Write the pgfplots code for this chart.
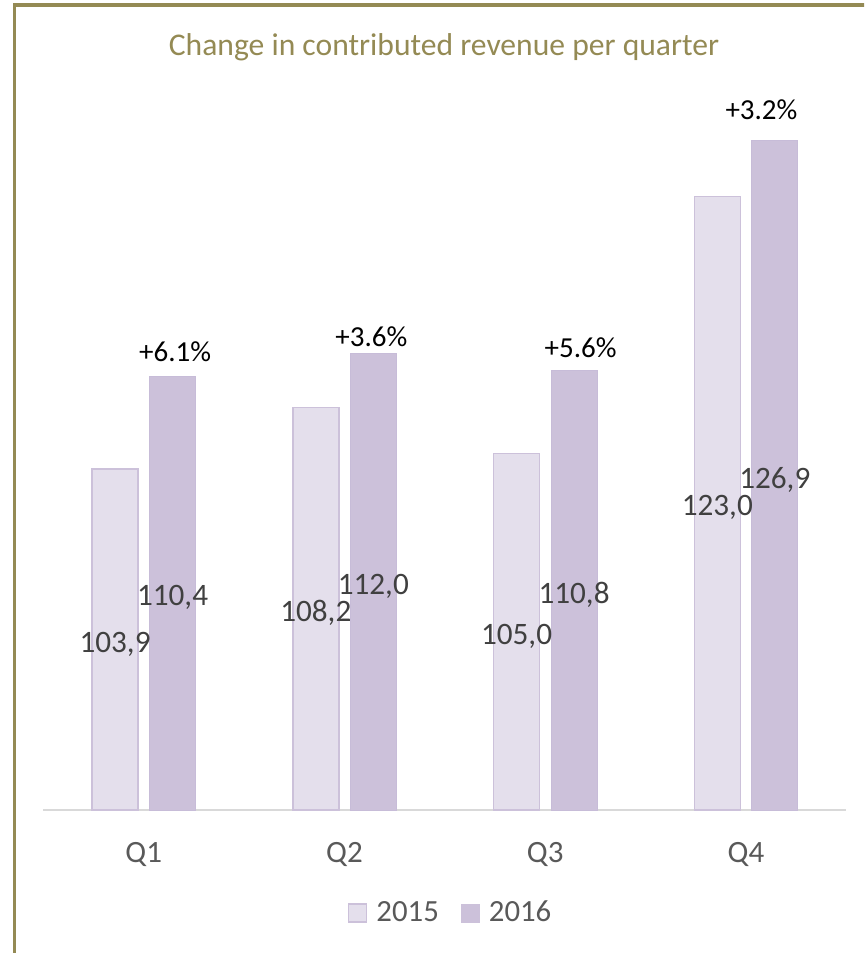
\documentclass[border=0pt]{standalone}
\usepackage{pgfplots}
\pgfplotsset{compat=1.18}
\usepackage{fontspec}
\setmainfont{Carlito}
\definecolor{tan}{HTML}{948A54}
\definecolor{cA}{HTML}{E4DFEC}
\definecolor{cB}{HTML}{CCC1DA}
\definecolor{cBe}{HTML}{C7BCD8}
\definecolor{lbl}{HTML}{404040}
\definecolor{tickc}{HTML}{595959}
\definecolor{axgray}{HTML}{D9D9D9}
\begin{document}
\begin{tikzpicture}
\useasboundingbox (0pt,0pt) rectangle (432pt,-476.5pt);
\begin{scope}
\clip (0pt,0pt) rectangle (432pt,-476.5pt);
\draw[tan, line width=1.6pt] (7.25pt,-600pt) -- (7.25pt,-2.5pt) -- (600pt,-2.5pt);
\end{scope}
\begin{axis}[
  at={(21.7pt,-405pt)}, anchor=south west,
  scale only axis, width=401.5pt, height=356.75pt,
  xmin=-0.5, xmax=3.5, ymin=80, ymax=130,
  axis x line=bottom, axis y line=none,
  x axis line style={-, draw=axgray, line width=1.35pt},
  xtick={0,1,2,3}, xticklabels={Q1,Q2,Q3,Q4},
  major tick length=0pt,
  xticklabel style={font=\fontsize{15.5}{18}\selectfont, text=tickc, inner sep=0pt, anchor=north, yshift=-16pt},
  clip=false,
  every axis title shift=0pt,
  title={Change in contributed revenue per quarter},
  title style={at={(0.4989,1.0694)}, anchor=center, inner sep=0pt, font=\fontsize{15.8}{18}\selectfont, text=tan},
  legend style={at={(0.5115,-0.1444)}, anchor=center, draw=none, fill=none,
    font=\fontsize{15.4}{18}\selectfont, text=tickc, legend columns=2,
    nodes={inner xsep=4.5pt},
    /tikz/every even column/.append style={column sep=6.5pt}},
]
\addplot[ybar, bar shift=-14.375pt, bar width=23pt, fill=cA, draw=cB, line width=0.75pt,
  point meta=explicit symbolic, nodes near coords,
  visualization depends on={rawy \as \rawy},
  nodes near coords style={anchor=center, xshift=-14.375pt, yshift={-(\rawy-80)*3.5675-2.2}, font=\fontsize{15.6}{18}\selectfont, text=lbl, inner sep=0pt},
  legend image code/.code={\draw[fill=cA, draw=cB, line width=0.75pt] (0pt,-4.5pt) rectangle (9pt,4.5pt);}]
table[x=x, y=y, meta=lab] {
x y lab
0 103.9 103,9
1 108.2 108,2
2 105.0 105,0
3 123.0 123,0
};
\addlegendentry{2015}
\addplot[ybar, bar shift=14.375pt, bar width=23pt, fill=cB, draw=cBe, line width=0.5pt,
  point meta=explicit symbolic, nodes near coords,
  visualization depends on={rawy \as \rawy},
  nodes near coords style={anchor=center, xshift=14.375pt, yshift={-(\rawy-80)*3.5675-2.2}, font=\fontsize{15.6}{18}\selectfont, text=lbl, inner sep=0pt},
  legend image code/.code={\draw[fill=cB, draw=cB, line width=0.5pt] (0pt,-4.5pt) rectangle (9pt,4.5pt);}]
table[x=x, y=y, meta=lab] {
x y lab
0 110.4 110,4
1 112.0 112,0
2 110.8 110,8
3 126.9 126,9
};
\addlegendentry{2016}
\addplot[forget plot, draw=none, mark=none,
  point meta=explicit symbolic, nodes near coords,
  nodes near coords style={anchor=center, font=\fontsize{14.5}{17}\selectfont, text=black, inner sep=0pt}]
table[x=x, y=y, meta=lab] {
x y lab
0.156 112.10 +6.1\%
1.134 113.15 +3.6\%
2.176 112.38 +5.6\%
3.077 129.05 +3.2\%
};
\end{axis}
\end{tikzpicture}
\end{document}
